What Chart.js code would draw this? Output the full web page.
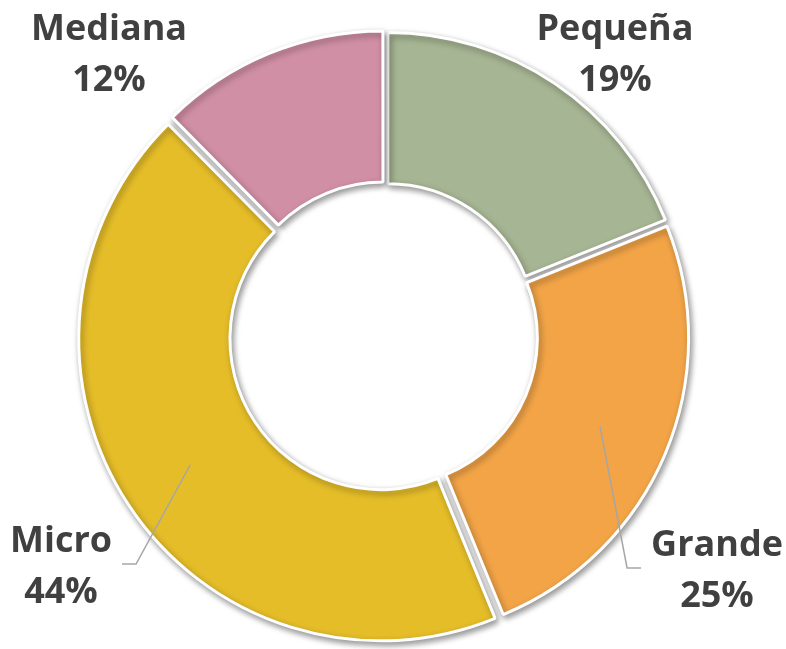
<!DOCTYPE html>
<html lang="es">
<head>
    <meta charset="UTF-8">
    <title>Empresas por tamaño</title>
    <style>
        body { background: #fff; margin: 0; overflow: hidden; }
        #box { width: 786px; height: 649px; }
    </style>
    <script src="https://cdn.jsdelivr.net/npm/chart.js"></script>
</head>
<body>
<div id="box"><canvas id="pie" width="786" height="649"></canvas></div>
<script>
    // datos (las etiquetas muestran el valor redondeado)
    const categories = ['Pequeña', 'Grande', 'Micro', 'Mediana'];
    const shares = [18.9, 24.9, 43.8, 12.4];
    const colors = ['#a6b593', '#f2a447', '#e5bd29', '#d08fa4'];

    // posición de cada etiqueta respecto al centro (px) y si lleva línea guía
    const labelSpots = [
        { dx: 230, dy: -284, leader: false },
        { dx: 332, dy: 232, leader: true },
        { dx: -324, dy: 228, leader: true },
        { dx: -276, dy: -284, leader: false }
    ];

    const FONT = 'bold 36px "Open Sans", sans-serif';
    const LINE_GAP = 51;

    // sombra bajo los sectores
    const shadowPlugin = {
        id: 'shadow',
        beforeDatasetsDraw(chart) {
            const c = chart.ctx;
            c.save();
            c.shadowColor = 'rgba(0,0,0,0.4)';
            c.shadowBlur = 6;
            c.shadowOffsetX = 2;
            c.shadowOffsetY = 3;
        },
        afterDatasetsDraw(chart) {
            chart.ctx.restore();
        }
    };

    const labelPlugin = {
        id: 'sliceLabels',
        afterDraw(chart) {
            const c = chart.ctx;
            const arcs = chart.getDatasetMeta(0).data;
            c.save();
            c.font = FONT;
            c.fillStyle = '#404040';
            c.textAlign = 'center';
            c.textBaseline = 'alphabetic';
            arcs.forEach((arc, i) => {
                const spot = labelSpots[i];
                const cx = arc.x + spot.dx;
                const cy = arc.y + spot.dy;
                const l1 = categories[i];
                const l2 = Math.round(shares[i]) + '%';
                c.fillText(l1, cx, cy - 12.5);
                c.fillText(l2, cx, cy - 12.5 + LINE_GAP);

                if (spot.leader) {
                    const w = Math.max(c.measureText(l1).width, c.measureText(l2).width);
                    const p = arc.tooltipPosition();
                    const side = spot.dx > 0 ? -1 : 1;
                    const edge = cx + side * w / 2;
                    c.save();
                    c.strokeStyle = '#a6a6a6';
                    c.lineWidth = 1.5;
                    c.beginPath();
                    c.moveTo(p.x, p.y);
                    c.lineTo(edge + side * 24, cy);
                    c.lineTo(edge + side * 10, cy);
                    c.stroke();
                    c.restore();
                }
            });
            c.restore();
        }
    };

    new Chart(document.getElementById('pie'), {
        type: 'doughnut',
        data: {
            labels: categories,
            datasets: [{
                data: shares,
                backgroundColor: colors,
                borderColor: '#ffffff',
                borderWidth: 3,
                offset: 20
            }]
        },
        options: {
            responsive: false,
            animation: false,
            radius: 299,
            cutout: 149,
            layout: { padding: { left: 0, right: 16, top: 23, bottom: 0 } },
            plugins: {
                legend: { display: false },
                tooltip: { enabled: false }
            }
        },
        plugins: [shadowPlugin, labelPlugin]
    });
</script>
</body>
</html>
